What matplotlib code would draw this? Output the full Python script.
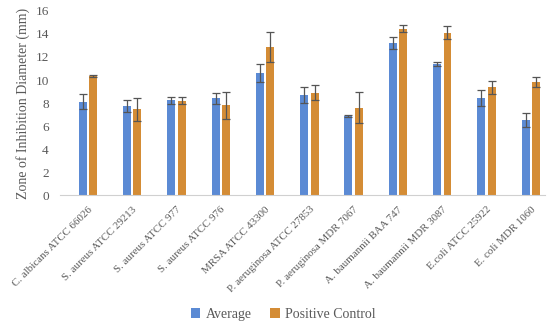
import matplotlib
matplotlib.use("Agg")
import matplotlib.pyplot as plt
import numpy as np

# values
strains = ["C. albicans ATCC 66026", "S. aureus ATCC 29213", "S. aureus ATCC 977",
           "S. aureus ATCC 976", "MRSA ATCC 43300", "P. aeruginosa ATCC 27853",
           "P. aeruginosa MDR 7067", "A. baumannii BAA 747", "A. baumannii MDR 3087",
           "E.coli ATCC 25922", "E. coli MDR 1060"]
average = [8.1, 7.75, 8.25, 8.4, 10.6, 8.7, 6.9, 13.2, 11.4, 8.4, 6.5]
average_err = [0.65, 0.5, 0.3, 0.45, 0.8, 0.7, 0.1, 0.5, 0.15, 0.7, 0.6]
positive = [10.35, 7.45, 8.2, 7.8, 12.85, 8.9, 7.6, 14.45, 14.1, 9.35, 9.8]
positive_err = [0.05, 1.0, 0.3, 1.2, 1.3, 0.65, 1.35, 0.3, 0.55, 0.55, 0.45]

plt.rcParams['font.family'] = ['Liberation Serif', 'DejaVu Serif']
grey = '#595959'

fig = plt.figure(figsize=(5.5, 3.22), dpi=100)
ax = fig.add_axes([0.109, 0.394, 0.882, 0.572])

x = np.arange(len(strains))
w = 0.18
ekw = dict(ecolor='#555555', elinewidth=0.9, capsize=2.8, capthick=0.9)
ax.bar(x - 0.118, average, w, yerr=average_err, color='#5B8AD4', label='Average', error_kw=ekw)
ax.bar(x + 0.118, positive, w, yerr=positive_err, color='#D48C35', label='Positive Control', error_kw=ekw)

ax.set_xlim(-0.63, 10.32)
ax.set_ylim(0, 16)
ax.set_yticks(np.arange(0, 17, 2))
ax.set_xticks(x)
ax.set_xticklabels(strains, rotation=45, ha='right', rotation_mode='anchor', fontsize=7.8, color=grey)
ax.tick_params(axis='y', labelsize=9.5, colors=grey, length=0, pad=8)
ax.tick_params(axis='x', length=0, pad=7)
for s in ['top', 'right', 'left']:
    ax.spines[s].set_visible(False)
ax.spines['bottom'].set_color('#d0d0d0')
ax.set_ylabel('Zone of Inhibition Diameter (mm)', fontsize=10, color=grey, labelpad=4)

fig.legend(loc='lower center', bbox_to_anchor=(0.515, -0.035), ncol=2, frameon=False,
           fontsize=10, handlelength=0.7, handleheight=0.7, handletextpad=0.4,
           columnspacing=1.3, labelcolor=grey)

fig.savefig('out.png', dpi=100)
